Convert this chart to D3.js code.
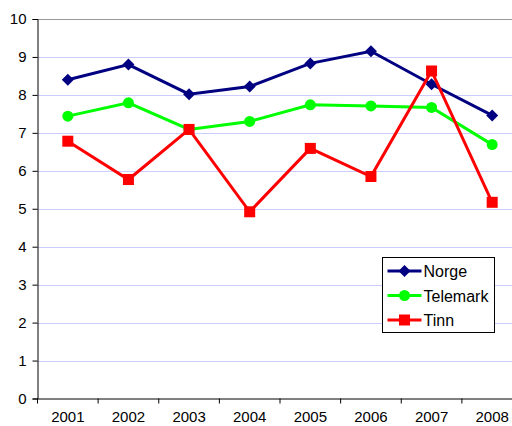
<!DOCTYPE html>
<html>
<head>
<meta charset="utf-8">
<script src="https://cdn.jsdelivr.net/npm/d3@7"></script>
<style>
  body { margin: 0; background: #fff; }
  text { font-family: "Liberation Sans", Arial, sans-serif; }
</style>
</head>
<body>
<div id="chart"></div>
<script>
// data
var years = ["2001", "2002", "2003", "2004", "2005", "2006", "2007", "2008"];
var norge = [8.40, 8.80, 8.02, 8.22, 8.83, 9.15, 8.28, 7.46];
var telemark = [7.44, 7.79, 7.09, 7.30, 7.74, 7.71, 7.67, 6.69];
var tinn = [6.78, 5.77, 7.09, 4.92, 6.59, 5.85, 8.63, 5.17];
var yTicks = [0, 1, 2, 3, 4, 5, 6, 7, 8, 9, 10];

var series = [
  {name: "Norge", values: norge, color: "#000080", marker: "diamond"},
  {name: "Telemark", values: telemark, color: "#00ff00", marker: "circle"},
  {name: "Tinn", values: tinn, color: "#ff0000", marker: "square"}
];

var W = 512, H = 426;
var margin = {top: 19, left: 37.5, bottom: 27.5};

var svg = d3.select("#chart").append("svg")
  .attr("width", W).attr("height", H);

var x = d3.scaleBand()
  .domain(years)
  .range([margin.left, margin.left + 485]);

var y = d3.scaleLinear()
  .domain([0, 10])
  .range([H - margin.bottom, margin.top]);

// grid
svg.selectAll("line.grid")
  .data(yTicks.filter(d => d > 0))
  .enter().append("line")
  .attr("class", "grid")
  .attr("x1", margin.left).attr("x2", W)
  .attr("y1", d => Math.round(y(d)) + 0.5)
  .attr("y2", d => Math.round(y(d)) + 0.5)
  .attr("stroke", d => d == 10 ? "#999999" : "#ccccff")
  .attr("stroke-width", 1);

// y axis
var gy = svg.append("g")
  .attr("transform", "translate(" + margin.left + ",0)")
  .call(d3.axisLeft(y).tickValues(yTicks).tickSize(5).tickPadding(6));
gy.selectAll("text").style("font-size", "15px").attr("fill", "#000");
gy.select(".domain").attr("stroke", "#000");

// x axis
var gx = svg.append("g")
  .attr("transform", "translate(0," + y(0) + ")")
  .call(d3.axisBottom(x).tickSize(0).tickPadding(13));
gx.selectAll("text").style("font-size", "15px").attr("fill", "#000");
gx.select(".domain").attr("stroke", "#000");
gx.selectAll("line.xtick")
  .data(years)
  .enter().append("line")
  .attr("class", "xtick")
  .attr("x1", d => x(d)).attr("x2", d => x(d))
  .attr("y1", 0).attr("y2", 5)
  .attr("stroke", "#000");

var cx = d => x(d) + x.bandwidth() / 2;

function drawMarker(g, type, color) {
  if (type == "diamond") {
    g.append("path").attr("d", "M0,-6L6,0L0,6L-6,0Z").attr("fill", color);
  } else if (type == "circle") {
    g.append("circle").attr("r", 5.5).attr("fill", color);
  } else {
    g.append("rect").attr("x", -5.5).attr("y", -5.5)
      .attr("width", 11).attr("height", 11).attr("fill", color);
  }
}

var line = d3.line()
  .x((d, i) => cx(years[i]))
  .y(d => y(d));

series.forEach(function(s) {
  svg.append("path")
    .datum(s.values)
    .attr("d", line)
    .attr("fill", "none")
    .attr("stroke", s.color)
    .attr("stroke-width", 3);
  svg.selectAll("g.m-" + s.name)
    .data(s.values)
    .enter().append("g")
    .attr("class", "m-" + s.name)
    .attr("transform", (d, i) => "translate(" + cx(years[i]) + "," + y(d) + ")")
    .each(function() { drawMarker(d3.select(this), s.marker, s.color); });
});

// legend
var legend = svg.append("g").attr("transform", "translate(382.5,257.5)");
legend.append("rect")
  .attr("width", 112).attr("height", 75)
  .attr("fill", "#fff").attr("stroke", "#000").attr("stroke-width", 1);
series.forEach(function(s, i) {
  var ly = 13.5 + i * 24.5;
  legend.append("line")
    .attr("x1", 5).attr("x2", 39).attr("y1", ly).attr("y2", ly)
    .attr("stroke", s.color).attr("stroke-width", 3);
  var m = legend.append("g").attr("transform", "translate(22," + ly + ")");
  drawMarker(m, s.marker, s.color);
  legend.append("text")
    .attr("x", 41).attr("y", ly + 6)
    .style("font-size", "16px")
    .text(s.name);
});
</script>
</body>
</html>
